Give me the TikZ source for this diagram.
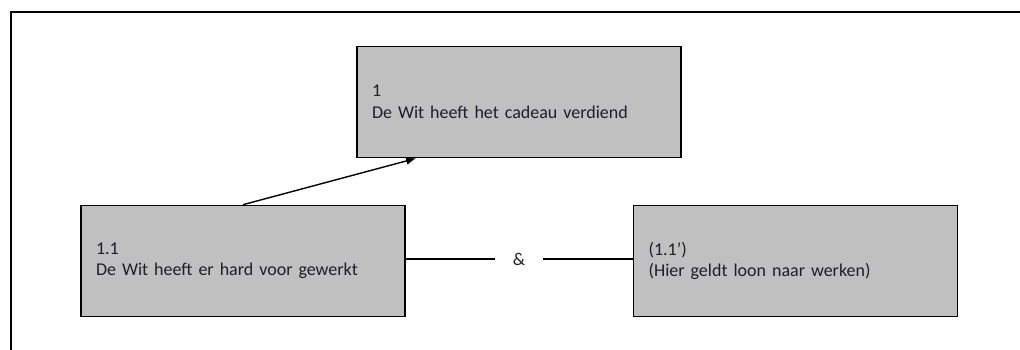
\documentclass[tikz,border=0pt]{standalone}
\usepackage{fontspec}
\setmainfont{Carlito}
\usetikzlibrary{positioning, arrows.meta}
\definecolor{boxgray}{RGB}{192,192,192}
\definecolor{txtgray}{RGB}{30,30,40}

\begin{document}
\begin{tikzpicture}[x=1pt, y=-1pt, node distance=10pt,
  claim/.style={draw, fill=boxgray, line width=1.6pt, minimum width=324pt, minimum height=111pt,
    text width=294pt, inner xsep=15pt, align=left, text=txtgray, font=\fontsize{18}{21.5}\selectfont},
  link/.style={line width=1.4pt}]
  \useasboundingbox (0,0) rectangle (1020,350);
  \draw[line width=1.5pt] (11,350) -- (11,12) -- (1020,12);

  \node[claim]     (C1)   at (519,102) {1\\De Wit heeft het cadeau verdiend};
  \node[claim]     (C11)  at (243,261)   {1.1\\De Wit heeft er hard voor gewerkt};
  \node[claim, right=227pt of C11]     (C11p)  {(1.1’)\\(Hier geldt loon naar werken)};
  \node[text=txtgray, font=\fontsize{18}{21.5}\selectfont, minimum width=48pt, inner sep=0pt] (AMP) at (519,259) {\&};

  \draw[link, -{Latex[length=10pt, width=8pt]}] (C11.north) --  ([xshift=60pt]C1.south west);
  \draw[link] (C11.east |- AMP) --  (AMP);
  \draw[link] (AMP) --  (C11p.west |- AMP);
\end{tikzpicture}
\end{document}
